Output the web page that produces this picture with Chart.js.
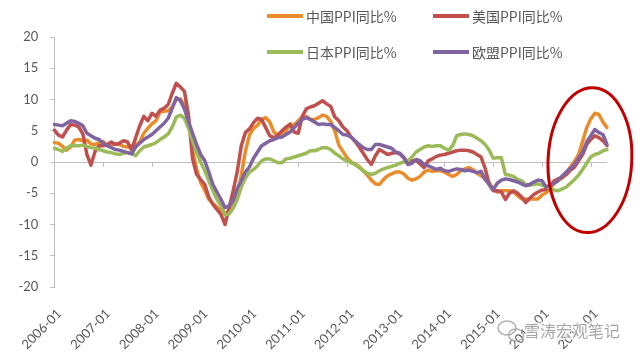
<!DOCTYPE html>
<html>
<head>
<meta charset="utf-8">
<script src="https://cdn.jsdelivr.net/npm/chart.js@4.4.0/dist/chart.umd.min.js"></script>
<style>
html,body{margin:0;padding:0;background:#fff;}
#wrap{width:640px;height:357px;position:relative;}
</style>
</head>
<body>
<div id="wrap"><canvas id="c" width="640" height="357"></canvas></div>
<script>
// ---- categories ----
const years = [2006, 2007, 2008, 2009, 2010, 2011, 2012, 2013, 2014, 2015, 2016, 2017];
const lastMonthOfLastYear = 5;
const months = [];
years.forEach(function (y, k) {
  const n = (k === years.length - 1) ? lastMonthOfLastYear : 12;
  for (let m = 1; m <= n; m++) months.push(y + '-' + (m < 10 ? '0' + m : m));
});
// ---- tick labels ----
const yearTickLabels = ['2006-01','2007-01','2008-01','2009-01','2010-01','2011-01','2012-01','2013-01','2014-01','2015-01','2016-01','2017-01'];
const yTicks = [20, 15, 10, 5, 0, -5, -10, -15, -20];

// ---- series ----
const seriesNames = ['中国PPI同比%', '美国PPI同比%', '日本PPI同比%', '欧盟PPI同比%'];
const chinaPPI = [
  3.1, 3.0, 2.5, 1.9, 2.4, 3.5, 3.6, 3.4, 3.5, 2.9, 2.8, 3.1,
  3.3, 2.6, 2.7, 2.9, 2.8, 2.5, 2.4, 2.6, 2.7, 3.2, 4.6, 5.4,
  6.1, 6.6, 8.0, 8.1, 8.2, 8.8, 10.0, 10.1, 9.1, 6.6, 2.0, -1.1,
  -3.3, -4.5, -6.0, -6.6, -7.2, -7.8, -8.2, -7.9, -7.0, -5.8, -2.1, 1.7,
  4.3, 5.4, 5.9, 6.8, 7.1, 6.4, 4.8, 4.3, 4.3, 5.0, 6.1, 5.9,
  6.6, 7.2, 7.3, 6.8, 6.8, 7.1, 7.5, 7.3, 6.5, 5.0, 2.7, 1.7,
  0.7, 0.0, -0.3, -0.7, -1.4, -2.1, -2.9, -3.5, -3.6, -2.8, -2.2, -1.9,
  -1.6, -1.6, -1.9, -2.6, -2.9, -2.7, -2.3, -1.6, -1.3, -1.5, -1.4, -1.4,
  -1.6, -2.0, -2.3, -2.0, -1.4, -1.1, -0.9, -1.2, -1.8, -2.2, -2.7, -3.3,
  -4.3, -4.8, -4.6, -4.6, -4.6, -4.8, -5.4, -5.9, -5.9, -5.9, -5.9, -5.9,
  -5.3, -4.9, -4.3, -3.4, -2.8, -2.6, -1.7, -0.8, 0.1, 1.2, 3.3, 5.5,
  6.9, 7.8, 7.6, 6.4, 5.5
];
const usPPI = [
  5.1, 4.3, 4.0, 5.1, 6.0, 5.9, 5.6, 4.5, 1.2, -0.5, 1.7, 2.6,
  2.6, 2.8, 3.2, 2.8, 3.0, 3.4, 3.2, 1.9, 3.9, 5.8, 7.3, 6.6,
  7.8, 7.3, 8.3, 8.6, 9.2, 11.0, 12.6, 12.0, 11.3, 7.5, 0.5, -2.0,
  -2.8, -3.6, -5.6, -6.8, -7.6, -8.4, -10.0, -7.3, -4.6, -1.5, 2.6, 4.7,
  5.3, 6.3, 7.0, 6.8, 5.5, 4.2, 3.9, 4.3, 5.0, 5.6, 6.0, 4.8,
  4.6, 7.3, 8.5, 8.8, 9.0, 9.4, 9.8, 9.3, 8.9, 7.2, 6.6, 5.6,
  5.0, 4.0, 3.3, 2.4, 1.4, 0.4, -0.4, 1.0, 2.0, 1.6, 1.2, 1.4,
  1.5, 1.3, 0.7, -0.1, 0.2, 0.3, -0.3, -0.9, 0.2, 0.5, 0.9, 1.1,
  1.2, 1.4, 1.6, 1.8, 1.9, 1.9, 1.8, 1.6, 1.2, 0.8, -1.0, -3.6,
  -4.6, -4.6, -4.8, -6.0, -5.0, -4.6, -5.0, -5.6, -6.5, -5.8, -5.2, -4.8,
  -4.5, -4.4, -3.9, -3.0, -2.7, -2.4, -2.0, -1.3, -0.8, 0.2, 1.2, 2.8,
  3.6, 4.2, 3.9, 3.4, 2.6
];
const japanPPI = [
  2.2, 2.0, 1.7, 2.2, 2.6, 2.6, 2.6, 2.7, 2.5, 2.3, 2.2, 2.0,
  1.8, 1.6, 1.5, 1.3, 1.2, 1.4, 1.5, 1.4, 1.0, 1.8, 2.4, 2.6,
  2.8, 3.1, 3.6, 4.0, 4.5, 5.6, 7.2, 7.5, 7.0, 5.4, 3.4, 1.5,
  0.0, -1.4, -3.0, -4.6, -6.0, -7.0, -8.5, -8.3, -7.4, -6.0, -4.0, -2.6,
  -1.6, -1.2, -0.6, 0.2, 0.5, 0.5, 0.2, -0.1, -0.1, 0.5, 0.6, 0.8,
  1.0, 1.2, 1.4, 1.8, 1.8, 2.0, 2.3, 2.3, 2.0, 1.4, 1.0, 0.5,
  0.2, -0.1, -0.4, -0.9, -1.4, -1.8, -2.0, -1.8, -1.4, -1.1, -0.9, -0.7,
  -0.5, -0.2, 0.0, 0.2, 0.8, 1.6, 2.0, 2.4, 2.6, 2.5, 2.6, 2.6,
  2.2, 1.9, 2.6, 4.2, 4.4, 4.5, 4.4, 4.2, 3.8, 3.4, 2.8, 1.9,
  0.6, 0.7, 0.7, -2.0, -2.1, -2.3, -2.8, -3.0, -3.6, -3.7, -3.6, -3.5,
  -3.7, -3.9, -4.2, -4.5, -4.6, -4.3, -4.0, -3.4, -2.8, -2.1, -1.2, -0.2,
  0.8, 1.2, 1.4, 1.8, 2.0
];
const euPPI = [
  6.0, 5.9, 5.8, 6.2, 6.6, 6.5, 6.2, 5.8, 4.6, 4.2, 3.8, 3.6,
  3.0, 2.6, 2.3, 2.0, 1.9, 1.7, 1.5, 1.3, 2.4, 3.0, 3.6, 4.0,
  4.4, 5.0, 5.6, 6.2, 7.0, 8.6, 10.3, 9.8, 8.5, 6.5, 4.6, 2.8,
  1.2, 0.2, -1.6, -3.6, -4.8, -6.0, -7.3, -7.0, -6.2, -4.2, -3.0, -1.6,
  -0.8, 0.6, 1.6, 2.6, 3.0, 3.4, 3.6, 3.9, 4.0, 4.4, 4.8, 5.5,
  6.2, 6.8, 7.1, 6.8, 6.4, 6.0, 6.1, 6.0, 6.0, 5.5, 5.0, 4.4,
  4.3, 4.0, 3.4, 2.8, 2.3, 2.0, 2.0, 2.8, 2.8, 2.6, 2.4, 2.2,
  1.6, 1.4, 0.7, -0.4, -0.2, 0.4, 0.2, -0.4, -0.6, -0.9, -1.2, -1.0,
  -1.4, -1.5, -1.3, -1.1, -1.2, -1.4, -1.3, -1.5, -1.7, -1.5, -2.8, -3.6,
  -4.4, -3.4, -2.9, -2.7, -2.8, -3.0, -3.2, -3.5, -3.8, -3.6, -3.2, -2.9,
  -3.0, -4.0, -3.7, -3.4, -3.0, -2.2, -1.6, -1.0, -0.4, 0.6, 1.6, 3.2,
  4.2, 5.2, 4.7, 4.4, 2.8
];
const seriesColors = ['#EB8C2A', '#C0504D', '#9BBB59', '#8064A2'];
const allSeries = [chinaPPI, usPPI, japanPPI, euPPI];

// annotation (highlight ellipse) in data units
const highlight = { center: 131.8, top: 11.9, bottom: -11.3, halfWidthMonths: 10.3 };
const watermark = '雪涛宏观笔记';

const AXIS_GREY = '#bfbfbf';
const TEXT_GREY = '#595959';

const legendPlugin = {
  id: 'customLegend',
  afterDraw(chart) {
    const ctx = chart.ctx;
    const colX = [267, 433];
    const rowY = [16, 52];
    ctx.save();
    chart.data.datasets.forEach(function (ds, i) {
      const x = colX[i % 2], y = rowY[Math.floor(i / 2)];
      ctx.strokeStyle = ds.borderColor;
      ctx.lineWidth = 4;
      ctx.lineCap = 'butt';
      ctx.beginPath(); ctx.moveTo(x, y); ctx.lineTo(x + 36, y); ctx.stroke();
      ctx.fillStyle = TEXT_GREY;
      ctx.font = '14px "Noto Sans CJK SC"';
      ctx.textBaseline = 'middle';
      ctx.textAlign = 'left';
      ctx.fillText(ds.label, x + 39, y + 1);
    });
    ctx.restore();
  }
};

const zeroTickPlugin = {
  id: 'zeroTicks',
  beforeDatasetsDraw(chart) {
    const ctx = chart.ctx, xs = chart.scales.x, ys = chart.scales.y;
    const y0 = ys.getPixelForValue(0);
    ctx.save();
    ctx.strokeStyle = AXIS_GREY; ctx.lineWidth = 1;
    months.forEach(function (lab, i) {
      if (i > 0 && yearTickLabels.indexOf(lab) >= 0) {
        const x = Math.round(xs.getPixelForValue(i)) + 0.5;
        ctx.beginPath(); ctx.moveTo(x, y0); ctx.lineTo(x, y0 + 5); ctx.stroke();
      }
    });
    ctx.restore();
  }
};

const annotationPlugin = {
  id: 'annot',
  afterDraw(chart) {
    const ctx = chart.ctx, xs = chart.scales.x, ys = chart.scales.y;
    const cx = xs.getPixelForValue(highlight.center);
    const rx = xs.getPixelForValue(highlight.center + highlight.halfWidthMonths) - cx;
    const yt = ys.getPixelForValue(highlight.top), yb = ys.getPixelForValue(highlight.bottom);
    ctx.save();
    ctx.strokeStyle = '#C00000'; ctx.lineWidth = 3;
    ctx.beginPath();
    ctx.ellipse(cx, (yt + yb) / 2, rx, (yb - yt) / 2, 0.05, 0, Math.PI * 2);
    ctx.stroke();
    // watermark
    ctx.strokeStyle = 'rgba(170,170,170,0.9)'; ctx.lineWidth = 1.5;
    ctx.beginPath(); ctx.ellipse(507, 328, 9, 7, 0, 0, Math.PI * 2); ctx.stroke();
    ctx.beginPath(); ctx.ellipse(516, 335, 7.5, 6, 0, 0, Math.PI * 2); ctx.stroke();
    ctx.font = '16px "Noto Sans CJK SC"';
    ctx.textBaseline = 'middle'; ctx.textAlign = 'left';
    ctx.lineWidth = 3; ctx.strokeStyle = 'rgba(255,255,255,0.8)';
    ctx.strokeText(watermark, 524, 331);
    ctx.fillStyle = 'rgba(150,150,150,0.85)';
    ctx.fillText(watermark, 524, 331);
    ctx.restore();
  }
};

const orderMap = [4, 3, 2, 1];
new Chart(document.getElementById('c'), {
  type: 'line',
  data: {
    labels: months,
    datasets: allSeries.map(function (arr, i) {
      return {
        label: seriesNames[i],
        data: arr,
        borderColor: seriesColors[i],
        backgroundColor: seriesColors[i],
        borderWidth: 3.5,
        pointRadius: 0,
        tension: 0,
        fill: false,
        borderJoinStyle: 'round',
        borderCapStyle: 'round',
        order: orderMap[i]
      };
    })
  },
  options: {
    responsive: false,
    animation: false,
    devicePixelRatio: 1,
    layout: { padding: { left: 0, right: 33, top: 37, bottom: 0 } },
    plugins: { legend: { display: false }, tooltip: { enabled: false } },
    scales: {
      x: {
        type: 'category',
        offset: false,
        grid: { display: false, drawTicks: false },
        border: { display: false },
        ticks: {
          autoSkip: false,
          maxRotation: 45,
          minRotation: 45,
          padding: 19,
          labelOffset: 5,
          color: TEXT_GREY,
          font: { family: 'Lato', size: 13 },
          callback: function (v, i) {
            return yearTickLabels.indexOf(months[i]) >= 0 ? months[i] : null;
          }
        },
        afterFit: function (s) { s.height = 70; }
      },
      y: {
        min: -20,
        max: 20,
        afterBuildTicks: function (s) { s.ticks = yTicks.map(function (v) { return { value: v }; }); },
        grid: {
          color: function (c) { return c.tick && c.tick.value === 0 ? AXIS_GREY : 'rgba(0,0,0,0)'; },
          tickColor: AXIS_GREY,
          tickLength: 4,
          lineWidth: 1
        },
        border: { display: true, color: AXIS_GREY },
        ticks: {
          padding: 12,
          color: TEXT_GREY,
          font: { family: 'Lato', size: 13 }
        },
        afterFit: function (s) { s.width = 53; }
      }
    }
  },
  plugins: [zeroTickPlugin, legendPlugin, annotationPlugin]
});
</script>
</body>
</html>
